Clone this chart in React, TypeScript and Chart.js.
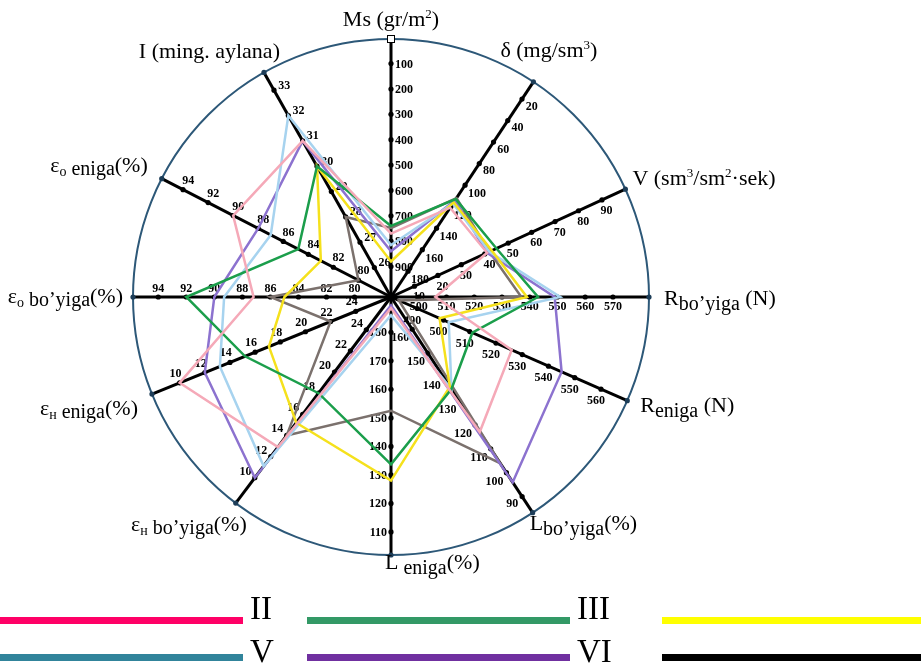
import React, { useEffect, useRef } from 'react';
import { Chart, registerables, RadialLinearScale } from 'chart.js';

Chart.register(...registerables);

// ---------- axes ----------
const AXIS_NAMES = [
  'Ms', 'δ', 'V', 'R bo\'yiga', 'R eniga', 'L bo\'yiga',
  'L eniga', 'εн bo\'yiga', 'εн eniga', 'εo bo\'yiga', 'εo eniga', 'I',
];
// direction of each spoke, degrees clockwise from "up"
const AXIS_ANGLES = [0, 33.5, 65.3, 90, 113.7, 146.7, 180, 217, 247.9, 270, 297.3, 330.5];
// value met at the centre and at the rim of each spoke
const AXIS_CENTER_VALUES = [1020, 204, 0, 490, 480, 173.5, 192.4, 27.1, 26.8, 77.4, 77.4, 24.84];
const AXIS_RIM_VALUES = [3, 4, 100, 583, 570, 83.3, 101.9, 7.6, 7.8, 95.8, 95.7, 33.7];

const TICKS_MS = [100, 200, 300, 400, 500, 600, 700, 800, 900];
const TICKS_DELTA = [20, 40, 60, 80, 100, 120, 140, 160, 180];
const TICKS_V = [10, 20, 30, 40, 50, 60, 70, 80, 90];
const TICKS_R_BOYIGA = [500, 510, 520, 530, 540, 550, 560, 570];
const TICKS_R_ENIGA = [490, 500, 510, 520, 530, 540, 550, 560];
const TICKS_L_BOYIGA = [90, 100, 110, 120, 130, 140, 150, 160];
const TICKS_L_ENIGA = [110, 120, 130, 140, 150, 160, 170, 180];
const TICKS_EN_BOYIGA = [10, 12, 14, 16, 18, 20, 22, 24];
const TICKS_EN_ENIGA = [10, 12, 14, 16, 18, 20, 22, 24];
const TICKS_EO_BOYIGA = [80, 82, 84, 86, 88, 90, 92, 94];
const TICKS_EO_ENIGA = [80, 82, 84, 86, 88, 90, 92, 94];
const TICKS_I = [26, 27, 28, 29, 30, 31, 32, 33];
const AXIS_TICKS = [
  TICKS_MS, TICKS_DELTA, TICKS_V, TICKS_R_BOYIGA, TICKS_R_ENIGA, TICKS_L_BOYIGA,
  TICKS_L_ENIGA, TICKS_EN_BOYIGA, TICKS_EN_ENIGA, TICKS_EO_BOYIGA, TICKS_EO_ENIGA, TICKS_I,
];

// ---------- series (same order as AXIS_NAMES) ----------
const SERIES_II = [770, 121, 41, 506, 526, 117, 188.5, 12.9, 10, 87.2, 90, 31];
const SERIES_III = [740, 113, 45, 543, 511, 135, 133.7, 18, 15.2, 92, 84.8, 30];
const SERIES_IV = [880, 116, 43, 539, 498.5, 136, 128, 15.2, 17.1, 85, 83, 30];
const SERIES_V = [815, 117, 42, 551, 502, 135, 186, 11.1, 13.2, 89.3, 87, 32];
const SERIES_VI = [840, 114, 41, 549, 545, 96, 189.5, 10, 12, 90, 88, 31];
const SERIES_VII = [748, 112, 42, 537, 483, 104, 152.5, 14, 22, 86, 80, 28];

const SERIES_NAMES = ['II', 'III', 'IV', 'V', 'VI', 'VII'];
const SERIES_VALUES = [SERIES_II, SERIES_III, SERIES_IV, SERIES_V, SERIES_VI, SERIES_VII];
const SERIES_LINE_COLORS = ['#f5a9b8', '#1b9e4b', '#f5e11c', '#a7d3ef', '#8c72cf', '#7b716d'];
const LEGEND_COLORS = ['#ff0066', '#339966', '#ffff00', '#31849b', '#7030a0', '#000000'];

// ---------- titles ----------
type Seg = [string, 'n' | 'sub' | 'esub' | 'idx' | 'sup'];
const AXIS_TITLES: Seg[][] = [
  [['Ms (gr/m', 'n'], ['2', 'sup'], [')', 'n']],
  [['δ (mg/sm', 'n'], ['3', 'sup'], [')', 'n']],
  [['V (sm', 'n'], ['3', 'sup'], ['/sm', 'n'], ['2', 'sup'], ['·sek)', 'n']],
  [['R', 'n'], ['bo\u2019yiga', 'sub'], [' (N)', 'n']],
  [['R', 'n'], ['eniga', 'sub'], [' (N)', 'n']],
  [['L', 'n'], ['bo\u2019yiga', 'sub'], ['(%)', 'n']],
  [['L', 'n'], [' eniga', 'sub'], ['(%)', 'n']],
  [['ε', 'n'], ['н', 'idx'], [' bo\u2019yiga', 'esub'], ['(%)', 'n']],
  [['ε', 'n'], ['н', 'idx'], [' eniga', 'esub'], ['(%)', 'n']],
  [['ε', 'n'], ['o', 'idx'], [' bo\u2019yiga', 'esub'], ['(%)', 'n']],
  [['ε', 'n'], ['o', 'idx'], [' eniga', 'esub'], ['(%)', 'n']],
  [['I (ming. aylana)', 'n']],
];
// baseline anchor offset from each spoke's rim point, and alignment
const TITLE_OFFSETS: [number, number, 'left' | 'center' | 'right'][] = [
  [0, -13, 'center'], [-33, -25, 'left'], [7, -4, 'left'], [15, 8, 'left'],
  [13, 11, 'left'], [-3, 17, 'left'], [-6, 14, 'left'], [11, 28, 'right'],
  [-14, 21, 'right'], [-10, 6, 'right'], [-14, -7, 'right'], [16, -14, 'right'],
];

const SERIF = '"Liberation Serif", "Times New Roman", serif';
const SEG_STYLE: Record<string, { size: number; shift: number }> = {
  n: { size: 22, shift: 0 },
  sub: { size: 20, shift: 5 },
  esub: { size: 20, shift: 3 },
  idx: { size: 14, shift: 4 },
  sup: { size: 13, shift: -8 },
};

function norm(i: number, v: number) {
  return (v - AXIS_CENTER_VALUES[i]) / (AXIS_RIM_VALUES[i] - AXIS_CENTER_VALUES[i]);
}

class SkewedRadialScale extends RadialLinearScale {
  static id = 'skewedRadial';
  getIndexAngle(index: number): number {
    return (AXIS_ANGLES[index % AXIS_ANGLES.length] * Math.PI) / 180;
  }
}
Chart.register(SkewedRadialScale);

const decorPlugin = {
  id: 'spokeDecor',
  beforeDatasetsDraw(chart: any) {
    const scale = chart.scales.r;
    const ctx: CanvasRenderingContext2D = chart.ctx;
    ctx.save();
    ctx.font = `bold 12px ${SERIF}`;
    ctx.textAlign = 'center';
    ctx.textBaseline = 'middle';
    for (let i = 0; i < AXIS_NAMES.length; i++) {
      const a = (AXIS_ANGLES[i] * Math.PI) / 180;
      const px = Math.cos(a);
      const py = Math.sin(a);
      for (const v of AXIS_TICKS[i]) {
        const p = scale.getPointPositionForValue(i, norm(i, v));
        ctx.fillStyle = '#000';
        ctx.beginPath();
        ctx.arc(p.x, p.y, 2.6, 0, Math.PI * 2);
        ctx.fill();
        const txt = String(v);
        const w = ctx.measureText(txt).width;
        const gap = 4 + Math.abs(px) * w / 2 + Math.abs(py) * 5;
        ctx.fillText(txt, p.x + px * gap, p.y + py * gap + 1);
      }
      const end = scale.getPointPosition(i, scale.drawingArea);
      if (i === 0) {
        ctx.fillStyle = '#fff';
        ctx.strokeStyle = '#000';
        ctx.lineWidth = 1;
        ctx.fillRect(end.x - 3.5, end.y - 3.5, 7, 7);
        ctx.strokeRect(end.x - 3.5, end.y - 3.5, 7, 7);
      } else {
        ctx.fillStyle = '#1d3d58';
        ctx.beginPath();
        ctx.arc(end.x, end.y, 2.6, 0, Math.PI * 2);
        ctx.fill();
      }
    }
    ctx.restore();
  },
  afterDraw(chart: any) {
    const scale = chart.scales.r;
    const ctx: CanvasRenderingContext2D = chart.ctx;
    ctx.save();
    ctx.fillStyle = '#000';
    ctx.textBaseline = 'alphabetic';
    ctx.textAlign = 'left';
    AXIS_TITLES.forEach((segs, i) => {
      const end = scale.getPointPosition(i, scale.drawingArea);
      const [dx, dy, align] = TITLE_OFFSETS[i];
      let total = 0;
      const widths = segs.map(([t, k]) => {
        ctx.font = `${SEG_STYLE[k].size}px ${SERIF}`;
        const w = ctx.measureText(t).width;
        total += w;
        return w;
      });
      let x = end.x + dx;
      if (align === 'center') x -= total / 2;
      if (align === 'right') x -= total;
      const y = end.y + dy;
      segs.forEach(([t, k], j) => {
        ctx.font = `${SEG_STYLE[k].size}px ${SERIF}`;
        ctx.fillText(t, x, y + SEG_STYLE[k].shift);
        x += widths[j];
      });
    });
    ctx.restore();
  },
};

const LEGEND_X = [0, 307, 662];
const LEGEND_W = [243, 263, 259];
const LEGEND_LINE_Y = [620, 657];
const LEGEND_BASE_Y = [620, 663];

export default function App() {
  const ref = useRef<HTMLCanvasElement>(null);
  useEffect(() => {
    const canvas = ref.current;
    if (!canvas) return;
    const chart = new Chart(canvas, {
      type: 'radar',
      data: {
        labels: AXIS_NAMES,
        datasets: SERIES_VALUES.map((vals, s) => ({
          label: SERIES_NAMES[s],
          data: vals.map((v, i) => norm(i, v)),
          borderColor: SERIES_LINE_COLORS[s],
          backgroundColor: 'transparent',
          borderWidth: 2.5,
          fill: false,
          pointRadius: 0,
          tension: 0,
        })),
      },
      options: {
        animation: false,
        responsive: false,
        maintainAspectRatio: false,
        layout: { padding: { left: 133, right: 272, top: 39, bottom: 111 } },
        plugins: { legend: { display: false }, tooltip: { enabled: false } },
        scales: {
          r: {
            type: 'skewedRadial' as any,
            min: 0,
            max: 1,
            ticks: { display: false, stepSize: 1 },
            pointLabels: { display: false },
            angleLines: { display: true, color: '#000', lineWidth: 3 },
            grid: { circular: true, color: '#2d5878', lineWidth: 2 },
          },
        },
      } as any,
      plugins: [decorPlugin],
    });
    return () => chart.destroy();
  }, []);

  return (
    <div style={{ position: 'fixed', left: 0, top: 0, width: 921, height: 666, overflow: 'hidden', background: '#fff' }}>
      <canvas ref={ref} width={921} height={666} style={{ position: 'absolute', left: 0, top: 0, width: 921, height: 666 }} />
      {SERIES_NAMES.map((name, i) => {
        const col = i % 3;
        const row = Math.floor(i / 3);
        const x = LEGEND_X[col];
        const w = LEGEND_W[col];
        return (
          <React.Fragment key={name}>
            <div style={{ position: 'absolute', left: x, top: LEGEND_LINE_Y[row] - 3.5, width: w, height: 7, background: LEGEND_COLORS[i] }} />
            <div style={{ position: 'absolute', left: x + w + 7, top: LEGEND_BASE_Y[row] - 27.6, fontFamily: SERIF, fontSize: 33, lineHeight: '33px', color: '#000', whiteSpace: 'nowrap' }}>
              {name}
            </div>
          </React.Fragment>
        );
      })}
    </div>
  );
}
